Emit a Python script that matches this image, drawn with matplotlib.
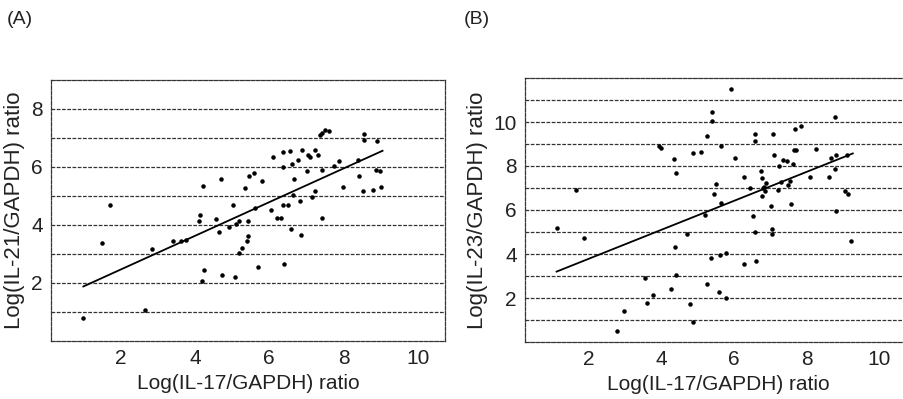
import matplotlib
matplotlib.use("Agg")
import matplotlib.pyplot as plt

plt.rcParams['font.family'] = ['Liberation Sans', 'DejaVu Sans']

# Panel A: IL-17 vs IL-21
a_x = [0.98, 1.49, 1.73, 2.65, 2.85, 3.42, 3.64, 3.76, 4.11, 4.15, 4.22, 4.24, 4.20,
       4.57, 4.65, 4.71, 4.73, 4.92, 5.03, 5.08, 5.12, 5.19, 5.19, 5.26, 5.35, 5.41,
       5.43, 5.43, 5.46, 5.59, 5.61, 5.70, 5.81, 6.06, 6.09, 6.22, 6.33, 6.38, 6.38,
       6.38, 6.40, 6.51, 6.56, 6.60, 6.62, 6.65, 6.67, 6.78, 6.84, 6.85, 6.88, 7.02,
       7.05, 7.09, 7.14, 7.23, 7.23, 7.32, 7.36, 7.41, 7.41, 7.43, 7.50, 7.61, 7.74,
       7.87, 7.99, 8.39, 8.42, 8.53, 8.56, 8.56, 8.80, 8.87, 8.89, 8.98, 9.02]
a_y = [0.81, 3.39, 4.70, 1.07, 3.16, 3.44, 3.45, 3.48, 4.15, 4.36, 5.34, 2.46, 2.06,
       4.22, 3.77, 5.60, 2.29, 3.94, 4.69, 2.21, 4.05, 4.15, 3.04, 3.19, 5.27, 3.45,
       4.15, 3.62, 5.68, 5.79, 4.58, 2.56, 5.52, 4.52, 6.33, 4.24, 4.24, 6.52, 6.00,
       4.70, 2.64, 4.68, 6.56, 3.86, 6.12, 5.02, 5.60, 6.23, 4.84, 3.66, 6.60, 5.86,
       6.41, 6.33, 4.96, 6.58, 5.17, 6.43, 7.10, 7.16, 5.89, 4.23, 7.28, 7.24, 6.03,
       6.21, 5.31, 6.23, 5.69, 5.17, 7.14, 6.93, 5.19, 5.91, 6.91, 5.85, 5.31]
a_line_x = [1.00, 9.05]
a_line_y = [1.88, 6.56]

# Panel B: IL-17 vs IL-23
b_x = [1.12, 1.66, 1.88, 2.78, 2.97, 3.55, 3.60, 3.77, 3.95, 3.99, 4.26, 4.34, 4.38,
       4.40, 4.41, 4.71, 4.80, 4.86, 4.86, 5.09, 5.21, 5.25, 5.26, 5.37, 5.39, 5.40,
       5.44, 5.51, 5.58, 5.61, 5.65, 5.65, 5.79, 5.79, 5.91, 6.02, 6.27, 6.28, 6.43,
       6.52, 6.57, 6.59, 6.59, 6.62, 6.74, 6.76, 6.78, 6.80, 6.83, 6.85, 6.88, 7.01,
       7.05, 7.05, 7.08, 7.11, 7.22, 7.25, 7.29, 7.36, 7.45, 7.48, 7.54, 7.57, 7.63,
       7.65, 7.68, 7.71, 7.84, 8.09, 8.25, 8.62, 8.68, 8.79, 8.79, 8.81, 8.81, 9.05,
       9.11, 9.13, 9.22]
b_y = [5.19, 6.90, 4.71, 0.52, 1.41, 2.89, 1.79, 2.12, 8.90, 8.82, 2.41, 8.31, 4.30,
       3.04, 7.69, 4.93, 1.71, 8.60, 0.93, 8.64, 5.77, 9.35, 2.64, 3.80, 10.46, 10.05,
       6.75, 7.20, 2.26, 3.94, 8.90, 6.30, 4.04, 1.98, 11.49, 8.37, 3.54, 7.51, 7.01,
       5.74, 4.98, 9.44, 9.14, 3.69, 7.76, 6.63, 7.46, 6.98, 7.05, 6.86, 7.25, 6.19,
       5.12, 4.93, 9.44, 8.52, 6.93, 7.99, 7.28, 8.26, 8.22, 7.13, 7.33, 6.27, 8.07,
       8.72, 9.66, 8.72, 9.81, 7.48, 8.76, 7.48, 8.37, 10.23, 7.85, 8.49, 5.96, 6.86,
       8.49, 6.71, 4.60]
b_line_x = [1.12, 9.27]
b_line_y = [3.20, 8.57]

x_ticks = [2, 4, 6, 8, 10]
a_yticks = [2, 4, 6, 8]
b_yticks = [2, 4, 6, 8, 10]
xlabel = "Log(IL-17/GAPDH) ratio"
a_ylabel = "Log(IL-21/GAPDH) ratio"
b_ylabel = "Log(IL-23/GAPDH) ratio"

W, H = 904, 399
fig = plt.figure(figsize=(W / 100, H / 100), dpi=100)

def px_axes(l, t, r, b):
    return fig.add_axes([l / W, 1 - b / H, (r - l) / W, (b - t) / H])

axA = px_axes(51, 80, 445, 341)
axB = px_axes(525, 78, 912, 342)

dash = (0, (3, 1.2))

def style(ax, xlim, ylim, yticks, ylabel, grid_max):
    ax.set_xlim(*xlim)
    ax.set_ylim(*ylim)
    ax.set_xticks(x_ticks)
    ax.set_yticks(yticks)
    ax.tick_params(length=0, labelsize=15, pad=6, colors='#222222')
    for s in ax.spines.values():
        s.set_linestyle(dash)
        s.set_linewidth(0.9)
        s.set_color('#333333')
    for g in range(1, grid_max + 1):
        ax.axhline(g, color='#333333', lw=0.9, ls=dash, zorder=1)
    ax.set_xlabel(xlabel, fontsize=15, color='#222222', labelpad=4)
    ax.set_ylabel(ylabel, fontsize=16, color='#222222', labelpad=4)

style(axA, (0.13, 10.73), (0, 9), a_yticks, a_ylabel, 8)
style(axB, (0.25, 10.9), (0, 12), b_yticks, b_ylabel, 11)

axA.scatter(a_x, a_y, s=5, color='black', zorder=3)
axA.plot(a_line_x, a_line_y, color='black', lw=1.3, zorder=2)
axB.scatter(b_x, b_y, s=5, color='black', zorder=3)
axB.plot(b_line_x, b_line_y, color='black', lw=1.3, zorder=2)

fig.text(7 / W, 1 - 20 / H, "(A)", fontsize=14, va='center', ha='left', color='#222222')
fig.text(464 / W, 1 - 20 / H, "(B)", fontsize=14, va='center', ha='left', color='#222222')

fig.savefig("out.png", dpi=100)
